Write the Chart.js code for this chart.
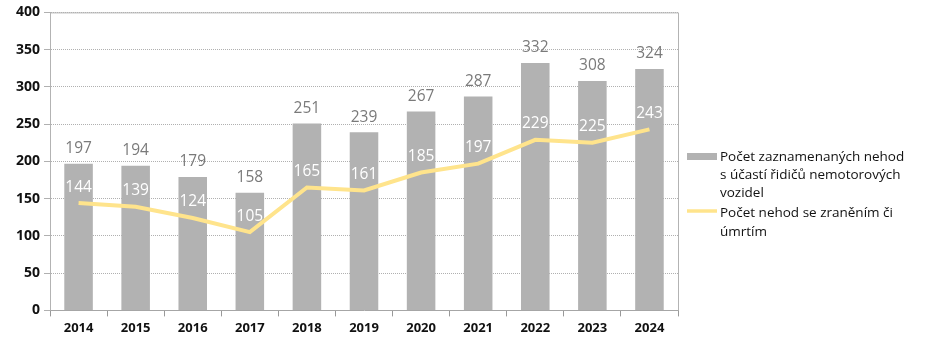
<!DOCTYPE html>
<html><head><meta charset="utf-8">
<script src="https://cdn.jsdelivr.net/npm/chart.js@4.4.0/dist/chart.umd.min.js"></script>
<style>html,body{margin:0;padding:0;background:#fff}#wrap{position:relative;width:940px;height:340px}</style>
</head><body><div id="wrap"><canvas id="c" width="940" height="340"></canvas></div>
<script>
const categories = ['2014','2015','2016','2017','2018','2019','2020','2021','2022','2023','2024'];
const accidents = [197,194,179,158,251,239,267,287,332,308,324];
const injuries = [144,139,124,105,165,161,185,197,229,225,243];
const yTicks = [0,50,100,150,200,250,300,350,400];
const seriesNames = [
  ['Počet zaznamenaných nehod','s účastí řidičů nemotorových','vozidel'],
  ['Počet nehod se zraněním či','úmrtím']
];
const FONT = "'Open Sans', sans-serif";

const labelPlugin = {
  id:'labels',
  afterDatasetsDraw(chart){
    const ctx = chart.ctx;
    ctx.save();
    ctx.textAlign='center'; ctx.textBaseline='middle';
    ctx.font = "15.5px "+FONT;
    chart.getDatasetMeta(0).data.forEach((el,i)=>{
      ctx.fillStyle='#7a7a7a';
      ctx.fillText(String(accidents[i]), el.x, el.y-15);
    });
    chart.getDatasetMeta(1).data.forEach((el,i)=>{
      ctx.fillStyle='#ffffff';
      ctx.fillText(String(injuries[i]), el.x, el.y-16);
    });
    ctx.restore();
  },
  beforeDatasetsDraw(chart){
    const {ctx, chartArea:a} = chart;
    ctx.save();
    ctx.strokeStyle='#b3b3b3'; ctx.lineWidth=1; ctx.setLineDash([]);
    ctx.beginPath();
    ctx.moveTo(a.left, a.top+0.5); ctx.lineTo(a.right+0.5, a.top+0.5);
    ctx.lineTo(a.right+0.5, a.bottom);
    ctx.stroke();
    ctx.beginPath();
    ctx.moveTo(a.left+0.5, a.top); ctx.lineTo(a.left+0.5, a.bottom);
    ctx.stroke();
    ctx.restore();
  },
  afterDraw(chart){
    const ctx = chart.ctx;
    const a = chart.chartArea;
    ctx.save();
    ctx.font = "13.5px "+FONT;
    ctx.textBaseline='middle'; ctx.textAlign='left';
    const x0 = a.right+9, tx = x0+33;
    let y = 157;
    ctx.fillStyle = chart.data.datasets[0].backgroundColor;
    ctx.fillRect(x0, y-4, 30, 7);
    ctx.fillStyle='#111';
    seriesNames[0].forEach((t,i)=>ctx.fillText(t, tx, y+i*18));
    y = 213;
    ctx.strokeStyle = chart.data.datasets[1].borderColor;
    ctx.lineWidth = 3.5;
    ctx.beginPath(); ctx.moveTo(x0, y-2); ctx.lineTo(x0+30, y-2); ctx.stroke();
    seriesNames[1].forEach((t,i)=>ctx.fillText(t, tx, y+i*19));
    ctx.restore();
  }
};

new Chart(document.getElementById('c'), {
  data:{
    labels:categories,
    datasets:[
      {type:'bar', label:seriesNames[0].join(' '), data:accidents, backgroundColor:'#b2b2b2', barPercentage:0.5, categoryPercentage:1, order:2},
      {type:'line', label:seriesNames[1].join(' '), data:injuries, borderColor:'#ffe48c', borderWidth:4, pointRadius:0, tension:0, order:1}
    ]
  },
  options:{
    responsive:false, animation:false,
    layout:{padding:{left:12,right:262,top:10,bottom:0}},
    plugins:{legend:{display:false}, tooltip:{enabled:false}},
    scales:{
      x:{
        grid:{drawOnChartArea:false, drawTicks:true, tickLength:6, offset:true, color:'#999'},
        border:{color:'#a6a6a6'},
        ticks:{color:'#111', font:{family:FONT, size:13, weight:'bold'}, padding:4}
      },
      y:{
        min:0, max:400,
        afterBuildTicks(ax){ ax.ticks = yTicks.map(v=>({value:v})); },
        grid:{color:'#b0b0b0', tickLength:6, drawTicks:true},
        border:{color:'#a6a6a6', dash:[1,1]},
        ticks:{color:'#111', font:{family:FONT, size:14, weight:'bold'}, padding:4}
      }
    }
  },
  plugins:[labelPlugin]
});
</script></body></html>
